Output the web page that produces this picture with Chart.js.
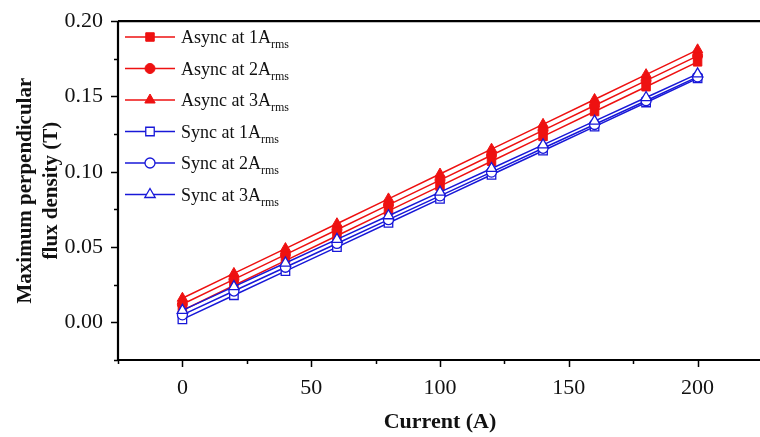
<!DOCTYPE html>
<html><head><meta charset="utf-8">
<script src="https://cdn.jsdelivr.net/npm/chart.js@4.4.0/dist/chart.umd.min.js"></script>
<style>
html,body{margin:0;padding:0;overflow:hidden;background:#fff;width:760px;height:437px}
#wrap{position:absolute;left:0;top:0;width:770px;height:437px}
</style>
</head><body><div id="wrap"><canvas id="c" width="770" height="437"></canvas></div>
<script>
const currents = [0, 20, 40, 60, 80, 100, 120, 140, 160, 180, 200];
const asyncAt1 = [0.008, 0.0245, 0.041, 0.0575, 0.074, 0.0905, 0.107, 0.1235, 0.140, 0.1565, 0.173];
const asyncAt2 = [0.012, 0.0285, 0.045, 0.0615, 0.078, 0.0945, 0.111, 0.1275, 0.144, 0.1605, 0.177];
const asyncAt3 = [0.016, 0.0325, 0.049, 0.0655, 0.082, 0.0985, 0.115, 0.1315, 0.148, 0.1645, 0.181];
const syncAt1 = [0.002, 0.018, 0.034, 0.050, 0.066, 0.082, 0.098, 0.114, 0.130, 0.146, 0.162];
const syncAt2 = [0.005, 0.0208, 0.0366, 0.0524, 0.0682, 0.084, 0.0998, 0.1156, 0.1314, 0.1472, 0.163];
const syncAt3 = [0.008, 0.0237, 0.0394, 0.0551, 0.0708, 0.0865, 0.1022, 0.1179, 0.1336, 0.1493, 0.165];
const seriesNames = ['Async at 1A', 'Async at 2A', 'Async at 3A', 'Sync at 1A', 'Sync at 2A', 'Sync at 3A'];
const seriesSub = 'rms';
const xMajorTicks = [0, 50, 100, 150, 200];
const yMajorTicks = [0.00, 0.05, 0.10, 0.15, 0.20];
const xTitle = 'Current (A)';
const yTitle = ['Maximum perpendicular', 'flux density (T)'];

const RED = '#EE1111', BLUE = '#1818D8';
const pts = arr => currents.map((x, i) => ({x: x, y: arr[i]}));
function ds(idx, arr, color, style, filled, order, r) {
  return {
    label: seriesNames[idx] + seriesSub,
    data: pts(arr),
    borderColor: color, borderWidth: 1.5,
    pointStyle: style, pointRadius: r,
    pointBackgroundColor: filled ? color : '#fff',
    pointBorderColor: color, pointBorderWidth: filled ? 1 : 1.3,
    order: order, tension: 0
  };
}
const datasets = [
  ds(0, asyncAt1, RED, 'rect', true, 5, 6),
  ds(1, asyncAt2, RED, 'circle', true, 4, 5),
  ds(2, asyncAt3, RED, 'triangle', true, 3, 6),
  ds(3, syncAt1, BLUE, 'rect', false, 2, 6),
  ds(4, syncAt2, BLUE, 'circle', false, 1, 5),
  ds(5, syncAt3, BLUE, 'triangle', false, 0, 6)
];

const near = (v, list) => list.some(t => Math.abs(t - v) < 1e-6);

const framePlugin = {
  id: 'frame',
  afterDraw(chart) {
    const ctx = chart.ctx, ca = chart.chartArea;
    const xs = chart.scales.x, ys = chart.scales.y;
    ctx.save();
    ctx.strokeStyle = '#000';
    ctx.lineWidth = 1.5;
    ctx.beginPath();
    xs.ticks.forEach(t => {
      const px = Math.round(xs.getPixelForValue(t.value)) + 0.5;
      const len = near(t.value, xMajorTicks) ? 7 : 4;
      ctx.moveTo(px, ca.bottom); ctx.lineTo(px, ca.bottom + len);
    });
    ys.ticks.forEach(t => {
      const py = Math.round(ys.getPixelForValue(t.value)) + 0.5;
      const len = near(t.value, yMajorTicks) ? 7 : 4;
      ctx.moveTo(ca.left, py); ctx.lineTo(ca.left - len, py);
    });
    ctx.stroke();
    ctx.lineWidth = 2.2;
    ctx.beginPath();
    ctx.moveTo(ca.left, ca.top); ctx.lineTo(ca.right, ca.top);
    ctx.moveTo(ca.left, ca.top); ctx.lineTo(ca.left, ca.bottom);
    ctx.moveTo(ca.left, ca.bottom); ctx.lineTo(ca.right, ca.bottom);
    ctx.stroke();
    ctx.restore();
  }
};

const legendPlugin = {
  id: 'customLegend',
  afterDatasetsDraw(chart) {
    const ctx = chart.ctx;
    ctx.save();
    chart.data.datasets.forEach((d, i) => {
      const y = 37 + i * 31.5;
      ctx.strokeStyle = d.borderColor; ctx.lineWidth = 1.5;
      ctx.beginPath(); ctx.moveTo(125, y); ctx.lineTo(175, y); ctx.stroke();
      ctx.fillStyle = d.pointBackgroundColor; ctx.strokeStyle = d.pointBorderColor;
      ctx.lineWidth = d.pointBorderWidth;
      Chart.helpers.drawPoint(ctx, {pointStyle: d.pointStyle, radius: d.pointRadius, rotation: 0, borderWidth: d.pointBorderWidth}, 150, y);
      ctx.fillStyle = '#111';
      ctx.textBaseline = 'alphabetic'; ctx.textAlign = 'left';
      ctx.font = '18px "Liberation Serif"';
      const main = seriesNames[i];
      ctx.fillText(main, 181, y + 6);
      const w = ctx.measureText(main).width;
      ctx.font = '12px "Liberation Serif"';
      ctx.fillText(seriesSub, 181 + w, y + 11);
    });
    ctx.restore();
  }
};

new Chart(document.getElementById('c'), {
  type: 'line',
  data: {datasets: datasets},
  options: {
    responsive: false, animation: false, devicePixelRatio: 1,
    layout: {padding: {left: 0, top: 16, right: 0, bottom: 0}},
    plugins: {legend: {display: false}, tooltip: {enabled: false}},
    scales: {
      x: {
        type: 'linear', min: -25, max: 225,
        afterFit: s => { s.height = 77; },
        grid: {display: true, drawOnChartArea: false, drawTicks: true, tickLength: 7, color: 'rgba(0,0,0,0)'},
        border: {display: false},
        ticks: {stepSize: 25, autoSkip: false, maxRotation: 0, padding: 8, color: '#111',
          font: {family: 'Liberation Serif', size: 22},
          callback: v => near(v, xMajorTicks) ? String(Math.round(v)) : ''},
        title: {display: true, text: xTitle, color: '#111', padding: {top: 0, bottom: 1},
          font: {family: 'Liberation Serif', size: 22, weight: 'bold'}}
      },
      y: {
        type: 'linear', min: -0.025, max: 0.2,
        afterFit: s => { s.width = 118; },
        grid: {display: true, drawOnChartArea: false, drawTicks: true, tickLength: 7, color: 'rgba(0,0,0,0)'},
        border: {display: false},
        ticks: {stepSize: 0.025, autoSkip: false, padding: 8, color: '#111',
          font: {family: 'Liberation Serif', size: 22},
          callback: v => near(v, yMajorTicks) ? v.toFixed(2) : ''},
        title: {display: true, text: yTitle, color: '#111', padding: {top: 12, bottom: 0},
          font: {family: 'Liberation Serif', size: 21, weight: 'bold', lineHeight: 1.25}}
      }
    }
  },
  plugins: [framePlugin, legendPlugin]
});
</script>
</body></html>
